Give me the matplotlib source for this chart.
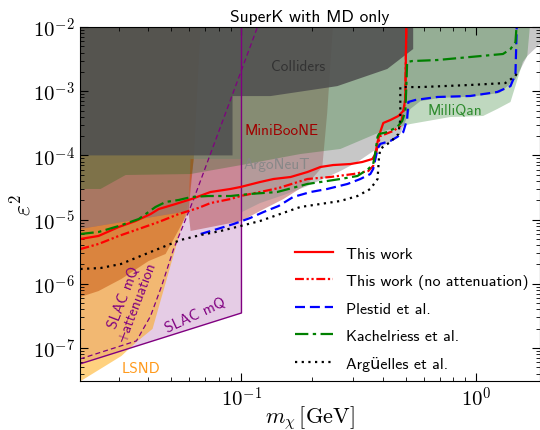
import matplotlib.pyplot as plt
import numpy as np
from matplotlib.ticker import FuncFormatter, LogLocator

plt.rcParams['mathtext.fontset'] = 'cm'
plt.rcParams['font.family'] = ['cmss10', 'DejaVu Sans']
plt.rcParams['axes.unicode_minus'] = False

# ---- exclusion regions (m_chi [GeV], eps^2) ----
slac_x = [0.0205, 0.1, 0.1, 0.0205]
slac_y = [5.64e-8, 3.51e-7, 1.2e-2, 1.2e-2]

slac_att_x = [0.0205, 0.0357, 0.041, 0.0457, 0.0514, 0.0561, 0.0626, 0.117]
slac_att_y = [6.74e-8, 1.29e-7, 3.15e-7, 9.24e-7, 3.48e-6, 7.67e-6, 2.09e-5, 1e-2]

lsnd_x = [0.0205, 0.028, 0.0308, 0.0357, 0.0418, 0.0589, 0.0626, 0.067, 0.0205]
lsnd_y = [3.0e-8, 6.05e-8, 7.5e-8, 1.24e-7, 1.98e-7, 1.63e-5, 8.8e-5, 1.2e-2, 1.2e-2]

lsnd2_x = [0.0205, 0.0246, 0.0308, 0.0402, 0.0475, 0.0594, 0.0626, 0.067, 0.0205]
lsnd2_y = [6.2e-7, 7.7e-7, 1.19e-6, 2.26e-6, 2.91e-6, 1.31e-5, 8.8e-5, 1.2e-2, 1.2e-2]

mb_x = [0.0205, 0.0594, 0.0607, 0.1, 0.120, 0.151, 0.191, 0.221, 0.232, 0.246, 0.0205]
mb_y = [7.14e-6, 1.36e-5, 6.64e-6, 9.51e-6, 1.36e-5, 2.09e-5, 3.59e-5, 6.6e-5, 4.74e-4,
        1.2e-2, 1.2e-2]

argo_x = [0.0205, 0.0594, 0.0607, 0.1, 0.1, 0.120, 0.151, 0.191, 0.264, 0.312, 0.365, 0.431,
          0.475, 0.524, 0.578, 0.703, 0.942, 1.26, 1.47, 1.65, 1.87, 1.87, 0.0205]
argo_y = [7.14e-6, 1.36e-5, 8.8e-5, 8.8e-5, 1.3e-5, 1.81e-5, 2.41e-5, 3.33e-5, 5.71e-5,
          7.89e-5, 1.17e-4, 1.62e-4, 2.15e-4, 5.28e-4, 7.0e-4, 7.9e-4, 8.2e-4, 9.4e-4,
          1.55e-3, 3.53e-3, 5.43e-3, 1.2e-2, 1.2e-2]

mq_x = [0.0205, 0.0251, 0.0321, 0.0607, 0.1, 0.178, 0.264, 0.390, 0.524, 0.775, 1.07, 1.23,
        1.40, 1.58, 1.65, 1.70, 0.0205]
mq_y = [3.0e-5, 3.0e-5, 4.95e-5, 5.13e-5, 7.08e-5, 1.05e-4, 1.26e-4, 2.31e-4, 3.08e-4,
        3.96e-4, 4.11e-4, 5.28e-4, 6.79e-4, 2.85e-3, 3.53e-3, 1.2e-2, 1.2e-2]

coll_x = [0.0205, 0.0916, 0.0916, 0.133, 0.256, 0.418, 0.539, 0.539, 0.0205]
coll_y = [1.0e-4, 1.0e-4, 8.4e-4, 8.4e-4, 1.2e-3, 2.22e-3, 4.54e-3, 1.2e-2, 1.2e-2]

# ---- limit curves ----
tw_x = [0.0206, 0.0246, 0.030, 0.0354, 0.041, 0.0444, 0.0524, 0.0612, 0.0738, 0.0898, 0.099,
        0.120, 0.137, 0.162, 0.191, 0.217, 0.246, 0.291, 0.327, 0.361, 0.372, 0.380, 0.390,
        0.402, 0.431, 0.466, 0.489, 0.499, 0.504]
tw_y = [4.99e-6, 5.56e-6, 7.67e-6, 9.51e-6, 1.22e-5, 1.46e-5, 1.75e-5, 2.09e-5, 2.69e-5, 3.0e-5,
        3.22e-5, 3.85e-5, 4.29e-5, 4.61e-5, 5.51e-5, 6.6e-5, 7.08e-5, 7.34e-5, 7.89e-5, 8.79e-5,
        1.05e-4, 1.62e-4, 2.31e-4, 3.2e-4, 3.56e-4, 4.11e-4, 4.92e-4, 7.56e-4, 1.2e-2]

twna_x = [0.0206, 0.0246, 0.030, 0.0365, 0.0444, 0.054, 0.0656, 0.0738, 0.0898, 0.099, 0.120,
          0.144, 0.191, 0.239, 0.300, 0.347, 0.364, 0.372, 0.380, 0.390, 0.443, 0.475, 0.489,
          0.499, 0.504]
twna_y = [3.48e-6, 4.17e-6, 5.56e-6, 7.14e-6, 9.18e-6, 1.22e-5, 1.52e-5, 1.81e-5, 2.09e-5,
          2.33e-5, 2.69e-5, 3.1e-5, 4.29e-5, 4.61e-5, 5.13e-5, 5.71e-5, 6.84e-5, 9.44e-5,
          1.4e-4, 2.0e-4, 2.4e-4, 2.87e-4, 4.74e-4, 7.56e-4, 1.2e-2]

pl_x = [0.067, 0.079, 0.0925, 0.109, 0.124, 0.144, 0.166, 0.197, 0.232, 0.283, 0.321, 0.354,
        0.364, 0.372, 0.380, 0.390, 0.431, 0.461, 0.489, 0.508, 0.514, 0.550, 0.683, 0.942,
        1.23, 1.40, 1.47, 1.49]
pl_y = [5.97e-6, 7.14e-6, 8.53e-6, 1.06e-5, 1.31e-5, 1.63e-5, 2.25e-5, 2.69e-5, 3.0e-5,
        3.59e-5, 4.29e-5, 5.13e-5, 6.14e-5, 8.79e-5, 1.26e-4, 1.51e-4, 1.68e-4, 1.94e-4,
        2.31e-4, 3.69e-4, 6.8e-4, 7.3e-4, 8.13e-4, 8.42e-4, 9.73e-4, 1.2e-3, 1.85e-3, 1.2e-2]

ka_x = [0.0206, 0.0246, 0.030, 0.0365, 0.043, 0.0475, 0.054, 0.0612, 0.0724, 0.0898, 0.109,
        0.142, 0.191, 0.264, 0.312, 0.347, 0.364, 0.372, 0.380, 0.385, 0.418, 0.461, 0.484,
        0.499, 0.504, 0.508, 0.534, 0.683, 0.942, 1.30, 1.40, 1.47, 1.49]
ka_y = [5.97e-6, 6.41e-6, 7.94e-6, 1.02e-5, 1.57e-5, 1.88e-5, 2.02e-5, 2.25e-5, 2.33e-5,
        2.33e-5, 2.51e-5, 2.69e-5, 3.59e-5, 4.29e-5, 4.78e-5, 6.14e-5, 7.34e-5, 1.13e-4,
        1.94e-4, 2.15e-4, 2.31e-4, 2.77e-4, 3.44e-4, 4.92e-4, 1.2e-3, 2.85e-3, 2.95e-3,
        3.06e-3, 3.41e-3, 3.8e-3, 4.54e-3, 5.83e-3, 1.2e-2]

ar_x = [0.0206, 0.0251, 0.0306, 0.0372, 0.0452, 0.055, 0.067, 0.0814, 0.099, 0.120, 0.146,
        0.178, 0.217, 0.264, 0.312, 0.354, 0.380, 0.385, 0.390, 0.431, 0.466, 0.475, 0.475,
        0.578, 0.942, 1.33, 1.47, 1.51]
ar_y = [1.70e-6, 1.76e-6, 2.03e-6, 2.71e-6, 3.61e-6, 4.81e-6, 5.75e-6, 6.64e-6, 7.94e-6,
        9.51e-6, 1.22e-5, 1.57e-5, 1.75e-5, 1.95e-5, 2.33e-5, 3.0e-5, 4.29e-5, 8.79e-5,
        1.26e-4, 1.62e-4, 2.15e-4, 3.69e-4, 1.16e-3, 1.16e-3, 1.25e-3, 1.34e-3, 1.73e-3,
        2.1e-3]

fig = plt.figure(figsize=(5.4, 4.31), dpi=100)
ax = fig.add_axes([0.148, 0.1137, 0.852, 0.8213])

# shaded exclusion regions, back to front
ax.fill(slac_x, slac_y, color='purple', alpha=0.2, lw=0)
ax.fill(lsnd_x, lsnd_y, color='orange', alpha=0.5, lw=0)
ax.fill(lsnd2_x, lsnd2_y, color='#c85a14', alpha=0.55, lw=0)
ax.fill(mb_x, mb_y, color='#a52a2a', alpha=0.42, lw=0)
ax.fill(argo_x, argo_y, color='#909090', alpha=0.5, lw=0)
ax.fill(mq_x, mq_y, color='#006400', alpha=0.25, lw=0)
ax.fill(coll_x, coll_y, color='#505050', alpha=0.88, lw=0)
ax.plot(slac_x[:3], slac_y[:3], color='purple', lw=1.0)
ax.plot(slac_att_x, slac_att_y, color='purple', lw=0.9, ls=(0, (4, 2.5)))

ax.plot(tw_x, tw_y, color='red', lw=1.6, label='This work')
ax.plot(twna_x, twna_y, color='red', lw=1.6, ls=(0, (4, 1.2, 1, 1.2, 1, 1.2)),
        label='This work (no attenuation)')
ax.plot(pl_x, pl_y, color='blue', lw=1.6, ls=(0, (4.5, 2.2)), label='Plestid et al.')
ax.plot(ka_x, ka_y, color='green', lw=1.6, ls=(0, (6, 2, 1.5, 2)), label='Kachelriess et al.')
ax.plot(ar_x, ar_y, color='black', lw=1.6, ls=(0, (1, 2)), label='Argüelles et al.')

ax.text(0.175, 2.47e-3, 'Colliders', color='#333333', fontsize=11, ha='center', va='center')
ax.text(0.148, 2.49e-4, 'MiniBooNE', color='#a00000', fontsize=11, ha='center', va='center')
ax.text(0.142, 7.34e-5, 'ArgoNeuT', color='#888888', fontsize=11, ha='center', va='center')
ax.text(0.815, 5.1e-4, 'MilliQan', color='#2e8b2e', fontsize=11, ha='center', va='center')
ax.text(0.0375, 4.8e-8, 'LSND', color='#ff9a1c', fontsize=11, ha='center', va='center')
ax.text(0.0634, 3.4e-7, 'SLAC mQ', color='purple', fontsize=11, ha='center', va='center',
        rotation=25)
ax.text(0.0337, 5.8e-7, 'SLAC mQ\n+attenuation', color='purple', fontsize=11, ha='center',
        va='center', rotation=69, linespacing=1.0)

ax.set_xscale('log')
ax.set_yscale('log')
ax.set_xlim(0.0205, 1.87)
ax.set_ylim(3.06e-8, 1e-2)
fmt = FuncFormatter(lambda v, _: r'$10^{%d}$' % int(np.round(np.log10(v))))
ax.xaxis.set_major_formatter(fmt)
ax.yaxis.set_major_formatter(fmt)
ax.xaxis.set_minor_locator(LogLocator(base=10, subs=np.arange(2, 10)))
ax.yaxis.set_minor_locator(LogLocator(base=10, subs=np.arange(2, 10), numticks=20))
ax.tick_params(which='both', direction='in', top=True, right=True, labelsize=15)
ax.tick_params(which='major', length=6)
ax.tick_params(which='minor', length=3)
ax.set_xlabel(r'$m_\chi\,[\mathrm{GeV}]$', fontsize=16, labelpad=-5)
ax.set_ylabel(r'$\varepsilon^2$', fontsize=17, labelpad=-2)
ax.set_title('SuperK with MD only', fontsize=12.5, pad=4)

ax.legend(loc='upper left', bbox_to_anchor=(0.4365, 0.42), frameon=False, fontsize=11.5,
          handlelength=2.4, handletextpad=0.8, labelspacing=0.8)

fig.savefig('out.png', dpi=100)
